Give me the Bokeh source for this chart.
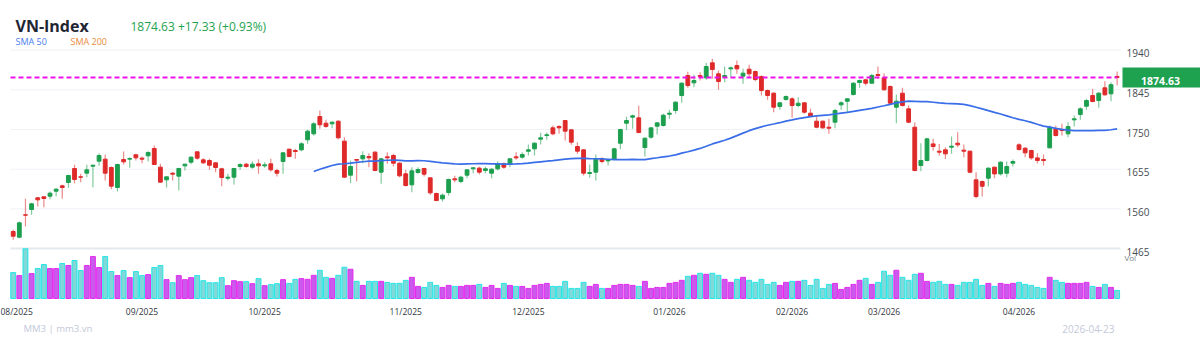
import pandas as pd
from bokeh.plotting import figure
from bokeh.models import Range1d, Label, BoxAnnotation
from bokeh.embed import file_html
from bokeh.resources import INLINE

# ---------------- data ----------------
open_ = [1505.9, 1492.3, 1545.8, 1558.5, 1586.5, 1588.9, 1590.4, 1602.4, 1615.2, 1623.2,
         1656.7, 1636.7, 1645.5, 1662.2, 1674.2, 1679.0, 1659.1, 1611.2, 1678.2, 1679.0,
         1689.4, 1681.4, 1687.0, 1704.5, 1659.9, 1629.5, 1645.5, 1638.3, 1663.0, 1671.8,
         1696.5, 1677.4, 1675.8, 1670.2, 1655.9, 1633.5, 1635.9, 1661.4, 1667.0, 1659.9,
         1667.8, 1663.0, 1667.8, 1651.9, 1673.4, 1702.9, 1699.7, 1701.3, 1725.3, 1739.6,
         1781.1, 1765.1, 1763.6, 1769.9, 1722.1, 1640.7, 1678.2, 1679.8, 1685.4, 1695.8,
         1647.9, 1684.6, 1687.8, 1669.4, 1643.9, 1617.6, 1647.1, 1656.7, 1634.3, 1596.8,
         1584.1, 1599.2, 1631.9, 1625.6, 1640.7, 1655.9, 1657.5, 1651.9, 1645.5, 1655.9,
         1667.8, 1667.8, 1684.6, 1683.8, 1698.1, 1703.7, 1726.9, 1735.6, 1754.0, 1757.2,
         1771.5, 1749.2, 1709.3, 1701.3, 1644.7, 1647.9, 1679.7, 1674.9, 1679.7, 1717.2,
         1765.1, 1779.5, 1777.9, 1706.9, 1731.6, 1757.9, 1759.5, 1786.6, 1795.4, 1831.3,
         1879.2, 1861.6, 1879.2, 1873.6, 1909.5, 1883.2, 1875.2, 1895.1, 1903.1, 1877.6,
         1894.3, 1888.7, 1876.8, 1843.3, 1836.9, 1805.0, 1821.7, 1823.3, 1807.4, 1813.8,
         1789.0, 1769.9, 1769.9, 1755.5, 1767.5, 1809.0, 1817.7, 1833.7, 1862.4, 1868.8,
         1860.8, 1881.6, 1873.6, 1852.8, 1803.4, 1836.9, 1799.4, 1755.5, 1663.8, 1675.8,
         1715.6, 1698.1, 1701.3, 1707.7, 1717.2, 1700.5, 1698.1, 1629.5, 1625.5, 1633.5,
         1659.8, 1643.8, 1645.4, 1669.4, 1713.3, 1705.3, 1699.7, 1682.1, 1678.2, 1706.1,
         1751.5, 1749.9, 1739.6, 1773.1, 1785.8, 1805.8, 1831.3, 1819.3, 1849.7, 1835.3,
         1877.0]
high = [1509.9, 1529.8, 1584.1, 1574.5, 1588.1, 1590.4, 1601.6, 1609.6, 1617.6, 1641.5,
        1665.4, 1643.9, 1665.4, 1665.4, 1693.4, 1690.2, 1661.4, 1667.8, 1697.3, 1683.8,
        1691.8, 1685.4, 1698.1, 1711.7, 1667.8, 1637.5, 1647.9, 1658.3, 1667.8, 1685.4,
        1698.1, 1681.4, 1679.8, 1671.8, 1658.3, 1643.9, 1657.5, 1669.4, 1670.2, 1674.2,
        1679.0, 1671.8, 1679.8, 1655.9, 1695.7, 1703.7, 1703.7, 1719.7, 1749.2, 1767.5,
        1795.5, 1773.1, 1769.1, 1771.5, 1731.7, 1675.8, 1678.6, 1698.1, 1693.4, 1698.1,
        1681.4, 1695.8, 1691.8, 1671.8, 1653.5, 1659.9, 1659.9, 1658.3, 1635.9, 1599.2,
        1596.8, 1632.7, 1639.1, 1639.1, 1655.1, 1659.9, 1660.7, 1660.7, 1656.7, 1674.2,
        1671.0, 1681.4, 1695.8, 1695.8, 1714.1, 1719.7, 1742.0, 1742.8, 1759.6, 1760.4,
        1771.5, 1750.8, 1719.7, 1702.9, 1666.2, 1690.2, 1683.7, 1679.7, 1706.1, 1751.5,
        1781.1, 1785.8, 1806.6, 1730.8, 1755.5, 1767.5, 1787.4, 1797.0, 1817.7, 1862.4,
        1887.9, 1880.8, 1887.1, 1909.5, 1919.1, 1891.1, 1900.7, 1900.7, 1915.1, 1895.1,
        1904.7, 1891.1, 1879.2, 1845.7, 1839.3, 1815.4, 1831.3, 1827.3, 1827.3, 1815.4,
        1799.4, 1781.1, 1771.5, 1775.5, 1799.4, 1817.7, 1824.9, 1863.2, 1869.6, 1871.2,
        1883.2, 1900.7, 1884.8, 1855.2, 1833.7, 1849.7, 1807.4, 1767.5, 1717.2, 1730.0,
        1727.6, 1715.6, 1707.7, 1733.2, 1743.6, 1714.1, 1699.7, 1647.8, 1627.9, 1659.8,
        1661.4, 1674.2, 1673.4, 1678.2, 1717.2, 1707.7, 1701.3, 1693.3, 1690.1, 1759.5,
        1759.5, 1763.5, 1767.5, 1783.4, 1803.4, 1823.3, 1847.3, 1839.3, 1865.6, 1863.2,
        1889.0]
low = [1486.0, 1489.9, 1517.9, 1545.8, 1565.7, 1564.1, 1583.3, 1590.4, 1584.1, 1610.4,
       1621.6, 1624.0, 1635.9, 1612.0, 1663.0, 1628.0, 1607.2, 1601.6, 1666.2, 1658.3,
       1675.8, 1669.4, 1673.4, 1665.4, 1622.4, 1611.2, 1628.0, 1604.0, 1651.9, 1667.0,
       1677.4, 1667.8, 1653.5, 1647.9, 1614.4, 1628.0, 1618.4, 1653.5, 1658.3, 1655.9,
       1643.9, 1658.3, 1649.5, 1637.5, 1643.9, 1683.8, 1679.8, 1698.1, 1715.7, 1735.6,
       1751.6, 1754.0, 1753.2, 1726.9, 1634.3, 1621.6, 1626.4, 1669.4, 1659.9, 1650.3,
       1620.0, 1667.8, 1661.5, 1635.9, 1613.6, 1600.0, 1643.9, 1637.5, 1593.6, 1578.5,
       1577.7, 1592.1, 1624.0, 1621.6, 1633.5, 1645.5, 1642.3, 1645.5, 1633.5, 1651.9,
       1655.9, 1659.9, 1677.4, 1679.8, 1687.8, 1687.8, 1714.1, 1725.3, 1736.4, 1739.6,
       1723.7, 1713.3, 1691.8, 1639.9, 1634.3, 1627.9, 1669.4, 1663.8, 1677.3, 1702.9,
       1749.1, 1751.5, 1741.2, 1685.3, 1727.6, 1738.0, 1757.1, 1775.5, 1787.4, 1813.8,
       1849.7, 1851.3, 1867.2, 1868.8, 1871.2, 1844.9, 1863.2, 1875.2, 1883.2, 1859.2,
       1875.2, 1865.6, 1831.3, 1820.9, 1791.4, 1797.0, 1819.3, 1777.9, 1803.4, 1787.4,
       1779.5, 1753.1, 1751.5, 1739.6, 1753.1, 1797.0, 1791.4, 1831.3, 1849.7, 1855.2,
       1859.2, 1871.2, 1843.3, 1811.4, 1765.1, 1805.0, 1765.1, 1650.2, 1650.2, 1673.4,
       1699.7, 1687.7, 1679.7, 1691.7, 1707.7, 1683.7, 1645.4, 1585.6, 1589.6, 1613.5,
       1633.5, 1639.9, 1635.9, 1661.4, 1699.7, 1683.7, 1677.4, 1669.4, 1663.8, 1705.3,
       1733.2, 1735.6, 1731.6, 1757.1, 1773.1, 1797.0, 1815.4, 1801.8, 1831.3, 1817.7,
       1856.0]
close = [1494.7, 1526.6, 1545.0, 1572.1, 1581.7, 1584.9, 1597.6, 1607.2, 1611.2, 1639.9,
         1630.3, 1635.9, 1653.5, 1664.6, 1687.8, 1645.5, 1614.4, 1666.2, 1672.6, 1680.6,
         1682.2, 1679.0, 1695.0, 1666.2, 1624.0, 1636.7, 1643.1, 1656.7, 1667.0, 1683.8,
         1681.4, 1670.2, 1664.6, 1659.1, 1635.1, 1635.9, 1656.7, 1666.2, 1661.4, 1667.0,
         1663.0, 1665.4, 1653.5, 1645.5, 1694.2, 1685.4, 1697.3, 1715.7, 1746.0, 1763.6,
         1761.2, 1757.2, 1767.5, 1730.1, 1635.9, 1661.5, 1676.6, 1687.8, 1682.2, 1651.9,
         1679.8, 1682.2, 1669.4, 1639.1, 1616.0, 1651.1, 1654.3, 1643.1, 1598.4, 1580.1,
         1592.9, 1630.3, 1629.5, 1635.9, 1653.5, 1658.3, 1647.9, 1655.9, 1655.1, 1667.8,
         1659.9, 1679.8, 1682.2, 1690.2, 1701.3, 1717.3, 1730.1, 1737.3, 1739.6, 1754.0,
         1746.0, 1719.7, 1698.1, 1645.5, 1647.1, 1679.0, 1673.4, 1677.3, 1703.7, 1749.9,
         1771.5, 1782.7, 1742.8, 1729.2, 1753.9, 1765.9, 1784.2, 1789.0, 1815.4, 1860.8,
         1855.2, 1867.2, 1876.8, 1900.7, 1893.5, 1864.8, 1879.2, 1897.5, 1895.1, 1884.8,
         1883.2, 1869.6, 1843.3, 1831.3, 1803.4, 1813.8, 1828.9, 1807.4, 1812.9, 1791.4,
         1781.1, 1755.5, 1753.9, 1753.1, 1795.4, 1813.8, 1823.3, 1860.8, 1867.2, 1860.8,
         1879.2, 1879.2, 1844.9, 1813.0, 1817.7, 1807.4, 1767.5, 1651.8, 1675.8, 1727.6,
         1709.3, 1695.7, 1691.7, 1710.1, 1713.3, 1698.1, 1647.8, 1589.6, 1614.3, 1657.4,
         1643.8, 1671.8, 1661.4, 1673.4, 1702.1, 1694.1, 1682.1, 1675.8, 1675.8, 1755.5,
         1735.6, 1747.5, 1757.1, 1775.5, 1799.4, 1819.3, 1817.0, 1836.9, 1832.9, 1857.3,
         1874.63]
volume = [1028, 908, 1972, 988, 1188, 1348, 1188, 1188, 1388, 1308,
          1508, 1108, 1308, 1668, 1228, 1668, 1068, 908, 1108, 828,
          1068, 908, 948, 1228, 1308, 748, 628, 908, 748, 828,
          908, 708, 628, 628, 828, 508, 708, 668, 668, 588,
          788, 508, 548, 588, 748, 600, 760, 788, 760, 920,
          1120, 840, 800, 920, 1240, 1160, 680, 520, 680, 680,
          680, 640, 600, 600, 720, 840, 480, 440, 640, 520,
          440, 520, 480, 480, 520, 520, 560, 440, 520, 400,
          600, 520, 480, 480, 400, 520, 560, 600, 480, 480,
          680, 400, 400, 640, 480, 560, 400, 400, 520, 560,
          560, 520, 480, 680, 400, 440, 440, 600, 640, 720,
          880, 920, 1000, 960, 1000, 920, 760, 640, 760, 840,
          720, 640, 760, 560, 640, 520, 640, 680, 680, 720,
          520, 760, 400, 560, 600, 360, 440, 560, 720, 800,
          560, 640, 1080, 920, 1120, 840, 720, 960, 1000, 680,
          640, 680, 560, 560, 520, 640, 640, 760, 520, 600,
          480, 600, 560, 600, 640, 560, 520, 440, 400, 840,
          720, 640, 600, 600, 600, 640, 480, 440, 560, 440,
          320]
month_index = [0, 21, 41, 64, 84, 107, 127, 142, 164]
month_labels = ["08/2025", "09/2025", "10/2025", "11/2025", "12/2025",
                "01/2026", "02/2026", "03/2026", "04/2026"]
price_ticks = [1465, 1560, 1655, 1750, 1845, 1940]
last_date = "2026-04-23"
sma_period = 50

# ---------------- layout constants (pixels) ----------------
W, H = 1200, 338
BAR_PX = 6.133          # horizontal distance between bars
FIRST_BAR_PX = 12.7     # x pixel of the first bar
PANE_L, PANE_R = 10, 1120
ANCHOR_TICK, ANCHOR_PY = 1845, 89.3   # price tick and its pixel row
UNITS_PER_PX = 95 / 39.7
VOL_BASE_PY, VOL_PANE_PX = 298, 49.7


def px_to_x(px):
    return (px - FIRST_BAR_PX) / BAR_PX


def py_to_price(py):
    return ANCHOR_TICK - (py - ANCHOR_PY) * UNITS_PER_PX


y_top = py_to_price(0)
y_bot = py_to_price(H)
vol_per_px = max(volume) / VOL_PANE_PX

# ---------------- derived ----------------
n = len(close)
idx = list(range(n))
up = [c >= o for o, c in zip(open_, close)]
GREEN, RED = "#1c9f4e", "#df2a2a"
ccol = [GREEN if u else RED for u in up]
vfill = ["#c95aec" if u else "#80d8d8" for u in up]
vline = ["#e52bef" if u else "#25e6e6" for u in up]
body_top = [max(o, c) for o, c in zip(open_, close)]
body_bot = [min(o, c) for o, c in zip(open_, close)]
sma = pd.Series(close).rolling(sma_period).mean()
last = close[-1]
prev = close[-2]
chg = last - prev
pct = chg / prev * 100

FONT = "Open Sans"

p = figure(width=W, height=H, output_backend="svg", toolbar_location=None,
           min_border=0, min_border_left=0, min_border_right=0,
           min_border_top=0, min_border_bottom=0,
           x_range=Range1d(px_to_x(0), px_to_x(W)), y_range=Range1d(y_bot, y_top))
p.outline_line_color = None
p.background_fill_color = "white"
p.border_fill_color = "white"
p.xaxis.visible = False
p.yaxis.visible = False
p.xgrid.grid_line_color = None
p.ygrid.grid_line_color = None
p.extra_y_ranges = {"vol": Range1d(-(H - VOL_BASE_PY) * vol_per_px, VOL_BASE_PY * vol_per_px)}

xl, xr = px_to_x(PANE_L), px_to_x(PANE_R)

# last price tag background (drawn under everything else)
p.add_layout(BoxAnnotation(left=px_to_x(1122), right=px_to_x(W + 2),
                           top=py_to_price(67), bottom=py_to_price(87),
                           fill_color="#1ea24f", fill_alpha=1.0, line_color=None,
                           level="underlay"))

# horizontal grid lines and pane separator
grid_ticks = price_ticks[1:]
p.segment(x0=[xl] * len(grid_ticks), x1=[xr] * len(grid_ticks), y0=grid_ticks, y1=grid_ticks,
          line_color="#eff1f5", line_width=1)
p.segment(x0=[xl], x1=[xr], y0=[price_ticks[0]], y1=[price_ticks[0]],
          line_color="#e4e8ef", line_width=2)

# volume
p.vbar(x=idx, width=0.8, top=volume, bottom=0, y_range_name="vol",
       fill_color=vfill, line_color=vline, line_width=1)

# candles
p.segment(x0=idx, y0=low, x1=idx, y1=high, line_color=ccol, line_alpha=0.55, line_width=1.2)
p.vbar(x=idx, width=0.62, top=body_top, bottom=body_bot, fill_color=ccol, line_color=ccol, line_width=1)

# SMA 50
p.line(idx, sma, line_color="#3a6ee8", line_width=1.7)

# last price line
p.segment(x0=[xl], x1=[n - 1], y0=[last], y1=[last], line_color="#ee11ee", line_width=2,
          line_dash="5 3")


def lab(text, x, y, size, color, bold=False, align="left", baseline="alphabetic",
        xu="canvas", yu="canvas", **kw):
    p.add_layout(Label(x=x, y=y, x_units=xu, y_units=yu, text=text,
                       text_font=FONT, text_font_size=size, text_color=color,
                       text_font_style="bold" if bold else "normal",
                       text_align=align, text_baseline=baseline, **kw))


# right price axis labels
for t in price_ticks:
    lab(str(t), 1126, t - 3 * UNITS_PER_PX, "10px", "#474c55", baseline="middle", yu="data")
lab("Vol", 1124, 257, "8px", "#7a7f88", baseline="middle")

# month labels (the first one is kept inside the picture)
for i, m in zip(month_index, month_labels):
    if px_to_x(0) + 2.5 > i - 2.5:
        lab(m, 0, 310.5, "8.5px", "#2f353d", align="left", baseline="middle")
    else:
        lab(m, i, 310.5, "8.5px", "#2f353d", align="center", baseline="middle", xu="data")

# header
lab("VN-Index", 15, 25, "16px", "#1f2633", bold=True)
lab(f"{last:.2f} {chg:+.2f} ({pct:+.2f}%)", 130, 26, "12px", "#1ea34f")
lab(f"SMA {sma_period}", 15, 41, "9px", "#4a7ef0")
lab("SMA 200", 70, 41, "9px", "#ea8a3c")

# footer
lab("MM3 | mm3.vn", 23, 328, "9.5px", "#c3c9d8")
lab(last_date, 1114, 328, "10px", "#c3c9d8", align="right")

# last price tag text
lab(f"{last:.2f}", 1160, 80, "10.5px", "white", bold=True, align="center", baseline="middle")

open("out.html", "w").write(file_html(p, INLINE))
